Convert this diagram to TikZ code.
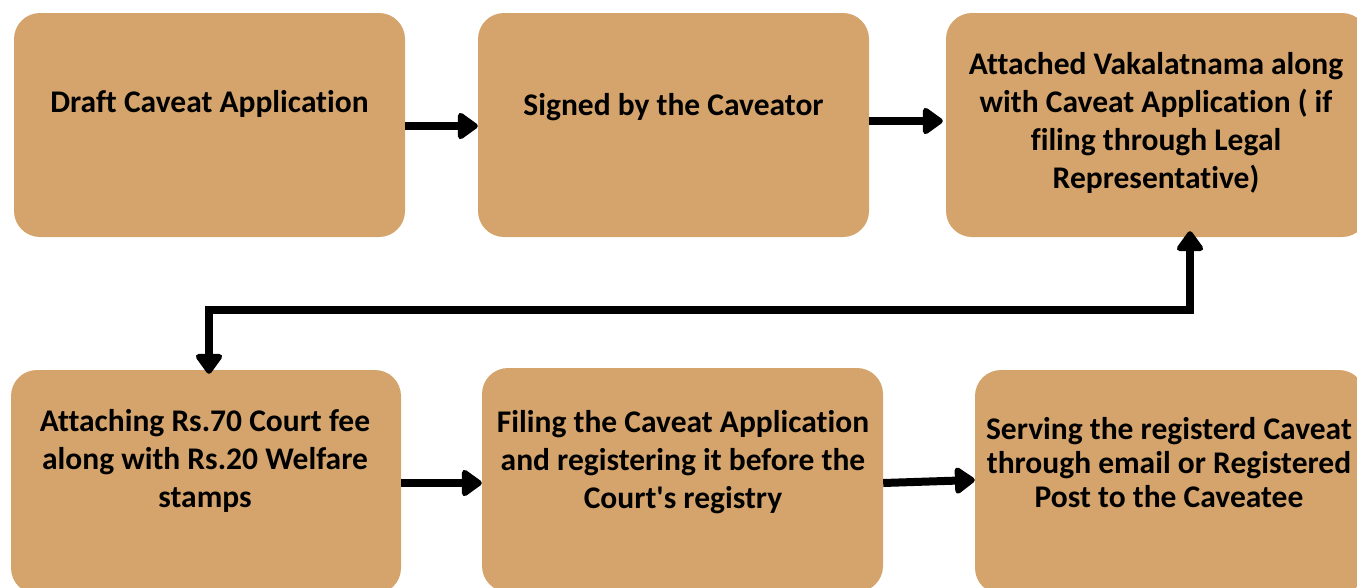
\documentclass[tikz,border=0pt]{standalone}
\usepackage{fontspec}
\setmainfont{Carlito}[Ligatures=NoCommon]
\usetikzlibrary{arrows.meta,calc}
\definecolor{boxfill}{HTML}{D4A46C}
\tikzset{
  stepbox/.style={draw=none, fill=boxfill, rounded corners=26pt, inner sep=0pt},
  boxtext/.style={align=center, font=\fontsize{31.5}{38}\selectfont\bfseries, inner sep=0pt, text=black},
  arr/.style={line width=8pt, -{Triangle[length=22pt,width=30pt,round]}, line join=round},
  arrboth/.style={line width=8pt, {Triangle[length=22pt,width=30pt,round]}-{Triangle[length=22pt,width=30pt,round]}, line join=miter}
}
\begin{document}
\begin{tikzpicture}[x=1pt,y=-1pt]
\useasboundingbox (0,0) rectangle (1357,587);
% top row
\node[stepbox, minimum width=391pt, minimum height=224pt] (b1) at (209.5,125) {};
\node[stepbox, minimum width=391pt, minimum height=224pt] (b2) at (673.5,125) {};
\node[stepbox, minimum width=422pt, minimum height=224pt] (b3) at (1157,125) {};
% bottom row
\node[stepbox, minimum width=390pt, minimum height=224pt] (b4) at (206,482) {};
\node[stepbox, minimum width=401pt, minimum height=224pt] (b5) at (682.5,480) {};
\node[stepbox, minimum width=390pt, minimum height=224pt] (b6) at (1170,482) {};
% texts
\node[boxtext] (t1) at (209.5,104) {Draft Caveat Application};
\node[boxtext] (t2) at (673.5,107) {Signed by the Caveator};
\node[boxtext] (t3) at (1156,123) {Attached Vakalatnama along\\with Caveat Application ( if\\filing through Legal\\Representative)};
\node[boxtext] (t4) at (205,461) {Attaching Rs.70 Court fee\\along with Rs.20 Welfare\\stamps};
\node[boxtext] (t5) at (683,462) {Filing the Caveat Application\\and registering it before the\\Court\textquotesingle s registry};
\node[boxtext, font=\fontsize{31.5}{34}\selectfont\bfseries] (t6) at (1169,463) {Serving the registerd Caveat\\through email or Registered\\Post to the Caveatee};
% connectors
\coordinate (c1) at (1190,310);
\coordinate (c2) at (209,310);
\draw[arr] (b1.east |- 0,126) -- (b2.west |- 0,126);
\draw[arr] (b2.east |- 0,121) -- ($(b3.west |- 0,121)+(-3,0)$);
\draw[arrboth] ($(c1 |- b3.south)+(0,-6)$) -- (c1) -- (c2) -- ($(c2 |- b4.north)+(0,4)$);
\draw[arr] (b4.east |- 0,483) -- (b5.west |- 0,483);
\draw[arr] (b5.east |- 0,483) -- (b6.west |- 0,480);
\end{tikzpicture}
\end{document}
